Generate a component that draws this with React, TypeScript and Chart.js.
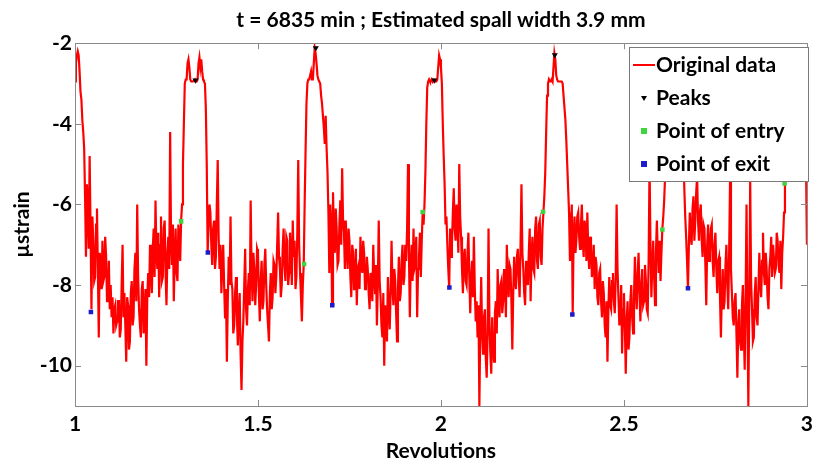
import React, { useEffect, useRef } from "react";
import { Chart, registerables } from "chart.js";

Chart.register(...registerables);

// Sampling grid of the original signal (revolutions)
const revStart = 1.0;
const revStep = 0.0025;

// Original data (µstrain), one value per revStep (0.1 rev per row)
const strain = [
  -2.95, -2.5, -2.3, -2.2, -2.3, -2.7, -3.2, -3.4, -3.9, -4.2, -4.6, -5.8, -7.3, -5.5, -6.0, -7.1, -4.8, -6.6, -8.6, -6.3,
  -6.9, -7.9, -7.8, -6.5, -6.1, -7.6, -9.3, -7.2, -7.4, -8.1, -6.9, -7.9, -7.8, -6.8, -7.3, -8.4, -8.2, -7.4, -8.6, -8.0,
  -8.8, -8.3, -9.2, -8.6, -8.5, -9.0, -8.9, -8.4, -8.4, -9.3, -9.1, -8.0, -7.0, -8.8, -8.2, -9.0, -9.9, -8.3, -8.5, -9.6,
  -9.4, -8.2, -7.9, -9.0, -8.8, -7.6, -7.2, -8.4, -6.0, -7.8, -8.6, -9.0, -9.3, -8.1, -7.9, -9.2, -8.8, -8.1, -10.0, -8.3,
  -7.7, -8.3, -7.0, -7.6, -8.2, -7.1, -6.6, -7.8, -5.9, -7.2, -7.6, -6.7, -8.3, -7.0, -6.3, -7.9, -7.8, -6.6, -6.4, -7.7,
  -8.5, -7.2, -6.8, -7.6, -4.2, -6.9, -7.5, -6.5, -8.4, -7.3, -6.6, -7.7, -7.9, -6.5, -6.8, -7.4, -6.4, -6.0, -5.0, -4.0,
  -3.0, -2.9, -2.9, -2.5, -2.4, -2.6, -2.9, -2.95, -2.95, -2.95, -2.95, -2.9, -2.95, -2.95, -2.9, -2.5, -2.35, -2.6, -2.4, -2.7,
  -2.9, -2.95, -3.0, -3.6, -5.0, -7.2, -6.5, -6.0, -6.2, -7.0, -7.5, -6.6, -6.4, -7.6, -7.3, -6.0, -4.9, -6.8, -7.6, -7.0,
  -8.2, -7.4, -7.0, -8.0, -8.8, -8.1, -9.9, -8.4, -7.3, -8.0, -6.3, -7.9, -8.1, -9.2, -9.0, -8.2, -7.8, -8.8, -9.5, -8.6,
  -8.2, -9.7, -10.6, -9.4, -8.9, -8.0, -7.1, -8.6, -9.0, -8.1, -7.7, -8.5, -5.9, -7.6, -8.4, -7.2, -7.6, -8.5, -8.0, -7.1,
  -7.2, -8.2, -8.9, -7.9, -7.4, -8.6, -8.4, -7.5, -7.1, -8.0, -8.6, -9.0, -9.4, -8.2, -7.7, -8.6, -8.3, -7.4, -7.5, -8.2,
  -7.8, -7.0, -6.2, -7.3, -7.6, -8.3, -8.0, -7.1, -6.6, -7.5, -7.9, -6.8, -6.9, -8.0, -7.7, -6.7, -7.2, -8.0, -6.4, -7.3,
  -6.9, -8.1, -7.8, -6.7, -4.9, -7.0, -7.7, -8.3, -8.9, -8.0, -7.5, -6.0, -4.7, -3.5, -3.0, -2.9, -2.9, -2.8, -2.7, -2.9,
  -2.9, -2.5, -2.12, -2.25, -2.5, -2.8, -2.9, -2.95, -3.0, -3.3, -3.5, -3.5, -4.1, -4.5, -3.8, -4.6, -5.2, -6.2, -7.7, -6.0,
  -6.4, -8.5, -5.7, -6.8, -7.2, -6.1, -6.6, -7.5, -7.4, -6.5, -5.9, -7.0, -5.1, -6.4, -6.7, -7.6, -6.4, -7.1, -7.6, -6.6,
  -6.9, -7.8, -8.3, -7.0, -7.2, -8.1, -7.9, -7.1, -8.5, -7.6, -7.5, -8.1, -6.8, -7.4, -7.7, -6.9, -7.2, -8.1, -8.0, -7.3,
  -7.6, -8.2, -8.6, -7.7, -7.9, -8.4, -7.0, -7.8, -8.2, -7.5, -9.0, -8.0, -6.4, -7.9, -8.3, -9.0, -9.3, -8.2, -10.0, -8.5,
  -8.8, -9.4, -7.8, -8.5, -9.1, -8.2, -6.9, -8.0, -8.5, -7.6, -7.9, -8.7, -9.4, -8.1, -7.3, -8.4, -8.2, -7.4, -7.0, -8.0,
  -7.8, -7.0, -7.4, -6.6, -5.0, -7.2, -8.8, -7.4, -7.0, -7.9, -6.6, -7.6, -7.5, -6.8, -8.8, -7.6, -7.3, -6.7, -7.8, -6.9,
  -6.2, -6.5, -6.0, -5.2, -4.0, -3.1, -2.95, -2.9, -2.95, -2.95, -2.9, -2.95, -2.9, -2.9, -2.95, -2.95, -2.9, -2.6, -2.3, -2.4,
  -2.6, -3.0, -4.0, -4.8, -5.5, -6.5, -6.3, -7.0, -7.6, -8.06, -6.6, -7.3, -7.0, -6.2, -5.6, -6.6, -6.9, -6.0, -6.4, -7.2,
  -5.0, -6.3, -6.8, -7.6, -8.2, -7.3, -7.1, -7.9, -8.0, -7.2, -6.7, -7.8, -8.7, -7.8, -7.4, -8.3, -6.8, -8.1, -8.9, -8.4,
  -9.3, -8.5, -11.0, -9.0, -7.8, -9.2, -9.7, -8.8, -8.6, -9.8, -10.3, -9.2, -6.6, -8.9, -9.7, -10.2, -8.8, -9.5, -9.9, -8.7,
  -8.4, -9.2, -7.6, -8.5, -8.8, -8.0, -7.9, -8.7, -8.4, -7.6, -8.0, -8.8, -7.0, -7.9, -8.3, -7.5, -7.6, -8.4, -9.6, -8.2,
  -7.3, -7.9, -8.1, -7.3, -7.1, -7.8, -8.3, -7.0, -5.5, -7.2, -7.6, -8.2, -8.5, -7.4, -7.6, -8.0, -7.2, -6.6, -8.4, -7.3,
  -6.8, -7.6, -7.7, -6.6, -6.3, -7.4, -7.6, -6.5, -6.4, -7.3, -7.5, -6.6, -6.2, -5.8, -5.2, -4.2, -3.3, -3.0, -2.9, -2.95,
  -2.95, -2.9, -2.95, -2.6, -2.25, -2.4, -2.8, -2.9, -2.95, -2.95, -2.95, -2.95, -2.95, -3.0, -3.3, -3.6, -3.9, -4.4, -5.0, -5.6,
  -6.2, -7.4, -6.7, -6.0, -8.73, -6.8, -6.3, -7.2, -6.9, -6.3, -6.2, -6.8, -7.1, -6.5, -6.0, -6.9, -7.3, -6.4, -6.6, -7.4,
  -6.2, -7.1, -7.6, -6.8, -7.0, -7.8, -7.6, -7.0, -8.1, -7.3, -7.5, -8.3, -8.5, -7.7, -7.6, -8.4, -8.8, -7.9, -8.2, -9.0,
  -9.3, -8.4, -9.9, -8.6, -7.8, -8.5, -8.6, -7.9, -7.7, -8.4, -8.7, -7.8, -6.0, -7.6, -8.3, -9.0, -8.8, -8.0, -9.7, -8.6,
  -8.2, -9.0, -10.2, -8.9, -8.4, -9.6, -9.3, -8.4, -8.0, -8.8, -9.2, -8.3, -7.3, -8.2, -8.6, -7.7, -7.2, -8.2, -8.9, -8.0,
  -7.6, -8.5, -8.4, -7.5, -7.9, -8.6, -8.7, -7.4, -5.0, -7.0, -8.3, -7.5, -6.9, -7.8, -8.5, -7.2, -6.4, -7.2, -7.7, -6.9,
  -7.9, -7.2, -6.6, -6.3, -5.9, -5.3, -4.8, -3.6, -3.0, -2.95, -2.9, -2.95, -2.9, -2.7, -2.5, -2.7, -2.9, -2.95, -2.95, -2.95,
  -2.95, -2.95, -3.0, -3.3, -3.8, -4.6, -5.6, -6.3, -6.8, -7.4, -8.08, -7.0, -6.2, -6.8, -7.0, -6.1, -5.8, -6.9, -6.4, -5.7,
  -5.3, -6.4, -6.9, -6.2, -6.0, -6.9, -7.3, -6.5, -6.6, -7.5, -8.5, -7.0, -6.5, -7.4, -7.2, -6.6, -6.5, -7.4, -7.8, -7.0,
  -6.7, -7.6, -8.2, -7.4, -7.3, -8.3, -9.3, -8.2, -7.6, -8.6, -8.4, -7.5, -7.0, -8.0, -8.6, -7.2, -5.4, -7.6, -8.2, -8.8,
  -9.0, -8.4, -8.2, -9.2, -10.3, -9.0, -8.6, -9.4, -9.6, -8.5, -8.0, -9.1, -10.1, -8.3, -6.0, -8.8, -11.0, -8.4, -5.4, -7.9,
  -8.6, -9.4, -9.3, -8.2, -7.8, -8.8, -9.0, -8.1, -7.2, -8.0, -8.3, -7.4, -6.7, -7.7, -8.0, -7.2, -7.6, -8.3, -8.6, -7.6,
  -7.3, -6.8, -7.8, -7.0, -7.0, -7.7, -7.6, -6.7, -6.9, -7.5, -7.7, -6.9, -8.1, -7.2, -6.8, -6.2, -5.5, -4.5, -3.5, -3.1,
  -3.0, -2.95, -2.9, -2.95, -2.9, -2.7, -2.5, -2.7, -2.9, -2.95, -3.0, -2.95, -2.9, -2.95, -3.0, -3.1, -3.2, -3.4, -3.8, -5.0,
  -7.0,
];

// Peaks
const peakRev = [1.329, 1.658, 1.982, 2.311];
const peakStrain = [-2.92, -2.12, -2.92, -2.29];

// Points of entry
const entryRev = [1.29, 1.626, 1.95, 2.279, 2.605, 2.939];
const entryStrain = [-6.42, -7.48, -6.19, -6.18, -6.62, -5.48];

// Points of exit
const exitRev = [1.0435, 1.363, 1.703, 2.023, 2.359, 2.675];
const exitStrain = [-8.67, -7.19, -8.5, -8.06, -8.73, -8.08];

const xTicks = [1, 1.5, 2, 2.5, 3];
const xTickLabels = ["1", "1.5", "2", "2.5", "3"];
const yTicks = [-10, -8, -6, -4, -2];
const yTickLabels = ["-10", "-8", "-6", "-4", "-2"];

const titleText = "t = 6835 min ; Estimated spall width 3.9 mm";
const xTitle = "Revolutions";
const yTitle = "µstrain";
const legendLabels = ["Original data", "Peaks", "Point of entry", "Point of exit"];

const FONT = "Lato";
const RED = "#ff0000";
const GREEN = "#3fd43f";
const BLUE = "#1c1ccc";
const BLACK = "#000000";

const framePlugin = {
  id: "frameAndLegend",
  afterDatasetsDraw(chart: any) {
    const { ctx, chartArea } = chart;
    const { left, right, top, bottom } = chartArea;
    const xs = chart.scales.x;
    const ys = chart.scales.y;
    ctx.save();
    ctx.strokeStyle = "#8a8a8a";
    ctx.lineWidth = 1;
    ctx.strokeRect(Math.round(left) + 0.5, Math.round(top) + 0.5, Math.round(right - left), Math.round(bottom - top));
    ctx.beginPath();
    const tl = 6;
    xTicks.forEach((v) => {
      const px = Math.round(xs.getPixelForValue(v)) + 0.5;
      ctx.moveTo(px, bottom);
      ctx.lineTo(px, bottom - tl);
      ctx.moveTo(px, top);
      ctx.lineTo(px, top + tl);
    });
    yTicks.forEach((v) => {
      const py = Math.round(ys.getPixelForValue(v)) + 0.5;
      ctx.moveTo(left, py);
      ctx.lineTo(left + tl, py);
      ctx.moveTo(right, py);
      ctx.lineTo(right - tl, py);
    });
    ctx.stroke();

    // legend box
    const bx = 629, by = 47, bw = 179, bh = 134;
    ctx.fillStyle = "#ffffff";
    ctx.fillRect(bx, by, bw, bh);
    ctx.strokeStyle = "#7a7a7a";
    ctx.strokeRect(bx + 0.5, by + 0.5, bw, bh);
    const rowsY = [65, 98, 131, 164];
    const mx = 644;
    ctx.font = `bold 21px ${FONT}`;
    ctx.textBaseline = "middle";
    ctx.textAlign = "left";
    ctx.fillStyle = BLACK;
    legendLabels.forEach((t, i) => ctx.fillText(t, 656, rowsY[i]));
    ctx.strokeStyle = RED;
    ctx.lineWidth = 2;
    ctx.beginPath();
    ctx.moveTo(633, rowsY[0]);
    ctx.lineTo(655, rowsY[0]);
    ctx.stroke();
    ctx.fillStyle = BLACK;
    ctx.beginPath();
    ctx.moveTo(mx - 3, rowsY[1] - 2);
    ctx.lineTo(mx + 3, rowsY[1] - 2);
    ctx.lineTo(mx, rowsY[1] + 3);
    ctx.closePath();
    ctx.fill();
    ctx.fillStyle = GREEN;
    ctx.fillRect(mx - 3, rowsY[2] - 3, 6, 6);
    ctx.fillStyle = BLUE;
    ctx.fillRect(mx - 3, rowsY[3] - 3, 6, 6);
    ctx.restore();
  },
};

export default function App() {
  const ref = useRef<HTMLCanvasElement | null>(null);
  useEffect(() => {
    if (!ref.current) return;
    const lineData = strain.map((v, i) => ({ x: revStart + i * revStep, y: v }));
    const chart = new Chart(ref.current, {
      type: "line",
      data: {
        datasets: [
          {
            label: "Original data",
            data: lineData,
            borderColor: RED,
            backgroundColor: RED,
            borderWidth: 2.2,
            pointRadius: 0,
            tension: 0,
            order: 10,
          },
          {
            label: "Peaks",
            data: peakRev.map((x, i) => ({ x, y: peakStrain[i] })),
            showLine: false,
            pointStyle: "triangle",
            rotation: 180,
            pointRadius: 3.5,
            backgroundColor: BLACK,
            borderColor: BLACK,
            borderWidth: 0,
            order: 1,
          },
          {
            label: "Point of entry",
            data: entryRev.map((x, i) => ({ x, y: entryStrain[i] })),
            showLine: false,
            pointStyle: "rect",
            pointRadius: 3.2,
            backgroundColor: GREEN,
            borderColor: GREEN,
            borderWidth: 0,
            order: 1,
          },
          {
            label: "Point of exit",
            data: exitRev.map((x, i) => ({ x, y: exitStrain[i] })),
            showLine: false,
            pointStyle: "rect",
            pointRadius: 3.2,
            backgroundColor: BLUE,
            borderColor: BLUE,
            borderWidth: 0,
            order: 1,
          },
        ],
      },
      options: {
        animation: false,
        responsive: false,
        devicePixelRatio: 1,
        layout: { padding: { top: 0, right: 9, left: 0, bottom: 0 } },
        plugins: {
          legend: { display: false },
          tooltip: { enabled: false },
          title: {
            display: true,
            text: titleText,
            fullSize: false,
            color: BLACK,
            font: { family: FONT, size: 21, weight: "bold" },
            padding: { top: 8, bottom: 10 },
          },
        },
        scales: {
          x: {
            type: "linear",
            min: 1,
            max: 3,
            afterBuildTicks: (s: any) => {
              s.ticks = xTicks.map((v) => ({ value: v }));
            },
            afterFit: (s: any) => {
              s.height = 58;
            },
            ticks: {
              color: BLACK,
              font: { family: FONT, size: 21, weight: "bold" },
              padding: 6,
              maxRotation: 0,
              callback: (v: any) => xTickLabels[xTicks.indexOf(Number(v))] ?? "",
            },
            grid: { display: false, drawTicks: false },
            border: { display: false },
            title: {
              display: true,
              text: xTitle,
              color: BLACK,
              font: { family: FONT, size: 21, weight: "bold" },
              padding: { top: 4, bottom: 0 },
            },
          },
          y: {
            type: "linear",
            min: -11,
            max: -2,
            afterBuildTicks: (s: any) => {
              s.ticks = yTicks.map((v) => ({ value: v }));
            },
            afterFit: (s: any) => {
              s.width = 75;
            },
            ticks: {
              color: BLACK,
              font: { family: FONT, size: 21, weight: "bold" },
              padding: 3,
              callback: (v: any) => yTickLabels[yTicks.indexOf(Number(v))] ?? "",
            },
            grid: { display: false, drawTicks: false },
            border: { display: false },
            title: {
              display: true,
              text: yTitle,
              color: BLACK,
              font: { family: FONT, size: 21, weight: "bold" },
              padding: { top: 10, bottom: 0 },
            },
          },
        },
      },
      plugins: [framePlugin],
    });
    return () => chart.destroy();
  }, []);
  return (
    <div style={{ position: "fixed", left: 0, top: 0, width: 819, height: 464, background: "#fff" }}>
      <canvas ref={ref} width={819} height={464} />
    </div>
  );
}
